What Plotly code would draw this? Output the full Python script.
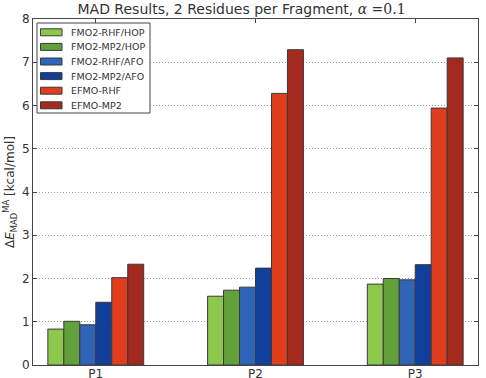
import plotly.graph_objects as go

categories = ["P1", "P2", "P3"]
series_names = ["FMO2-RHF/HOP", "FMO2-MP2/HOP", "FMO2-RHF/AFO", "FMO2-MP2/AFO", "EFMO-RHF", "EFMO-MP2"]
fmo2_rhf_hop = [0.83, 1.59, 1.87]
fmo2_mp2_hop = [1.01, 1.73, 2.00]
fmo2_rhf_afo = [0.93, 1.80, 1.97]
fmo2_mp2_afo = [1.45, 2.24, 2.32]
efmo_rhf = [2.02, 6.28, 5.94]
efmo_mp2 = [2.33, 7.29, 7.10]
series_values = [fmo2_rhf_hop, fmo2_mp2_hop, fmo2_rhf_afo, fmo2_mp2_afo, efmo_rhf, efmo_mp2]
colors = ["#8cc84b", "#62a03c", "#2f64b8", "#123f9a", "#e03d1f", "#a4291f"]

W, H = 486, 378
L, R, T, B = 33, 8, 19, 13
pw, ph = W - L - R, H - T - B

def px(x):
    return (x - L) / pw

def py(y):
    return 1 - (y - T) / ph

fig = go.Figure()
for name, vals, col in zip(series_names, series_values, colors):
    fig.add_trace(go.Bar(
        x=categories, y=vals, name=name, showlegend=False,
        marker=dict(color=col, line=dict(color="#3a3a3a", width=1)),
    ))

# manual legend (matplotlib-like compact spacing)
shapes = [dict(type="rect", xref="paper", yref="paper",
               x0=px(37), x1=px(150), y0=py(113), y1=py(23),
               line=dict(color="#444444", width=1), fillcolor="white", layer="above")]
annotations = []
for i, (name, col) in enumerate(zip(series_names, colors)):
    yc = 32.3 + i * 14.6
    shapes.append(dict(type="rect", xref="paper", yref="paper",
                       x0=px(40.5), x1=px(62), y0=py(yc + 3.5), y1=py(yc - 3.5),
                       line=dict(color="#3a3a3a", width=1), fillcolor=col, layer="above"))
    annotations.append(dict(xref="paper", yref="paper", x=px(68.5), y=py(yc),
                            xanchor="left", yanchor="middle", showarrow=False,
                            text=name, font=dict(size=9.5, color="#333333",
                                                  family="DejaVu Sans")))

fig.update_layout(
    width=W, height=H,
    margin=dict(l=L, r=R, t=T, b=B),
    paper_bgcolor="white", plot_bgcolor="white",
    barmode="group", bargap=0.4, bargroupgap=0,
    font=dict(family="DejaVu Sans", color="#333333", size=11),
    title=dict(
        text="MAD Results, 2 Residues per Fragment, <span style='font-family:DejaVu Serif'><i>α</i> =0.1</span>",
        x=0.497, xanchor="center", y=0.975, yanchor="middle",
        font=dict(size=14, color="#333333"),
    ),
    showlegend=False,
    shapes=shapes,
    annotations=annotations,
)

fig.update_xaxes(
    range=[-0.393, 2.393], showline=True, linecolor="#444444", linewidth=1,
    mirror="allticks", ticks="inside", ticklen=4, tickcolor="#444444",
    showgrid=False, automargin=False, tickfont=dict(size=12, color="#333333"),
    ticklabelstandoff=-2,
)
fig.update_yaxes(
    range=[0, 8], dtick=1, showline=True, linecolor="#444444", linewidth=1,
    mirror="allticks", ticks="inside", ticklen=4, tickcolor="#444444",
    showgrid=True, gridcolor="#9a9a9a", griddash="1px,2px", gridwidth=1,
    zeroline=False, automargin=False, tickfont=dict(size=12, color="#333333"),
    title=dict(text="Δ<i>E</i><sub>MAD</sub><sup>MA</sup> [kcal/mol]", standoff=4,
               font=dict(size=12, color="#333333")),
)

fig.write_html("out.html")
